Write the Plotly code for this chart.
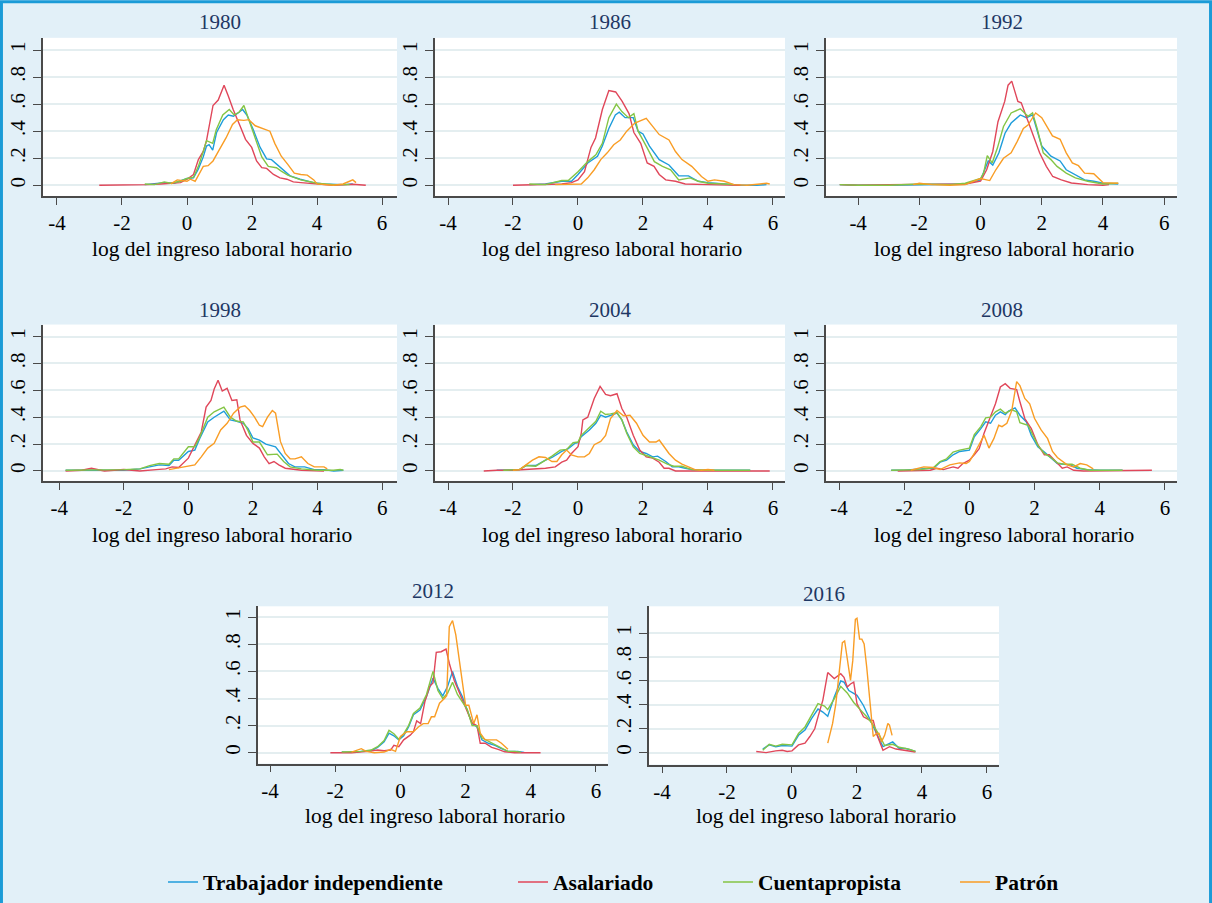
import plotly.graph_objects as go

# ---------------- data ----------------
years = ["1980", "1986", "1992", "1998", "2004", "2008", "2012", "2016"]
series_names = ["Trabajador independiente", "Asalariado", "Cuentapropista", "Patrón"]
series_colors = ["#1f9ddb", "#e0475a", "#84c545", "#f99d25"]
x_tick_vals = [-4, -2, 0, 2, 4, 6]
x_tick_text = ["-4", "-2", "0", "2", "4", "6"]
y_tick_vals = [0, 0.2, 0.4, 0.6, 0.8, 1]
y_tick_text = ["0", ".2", ".4", ".6", ".8", "1"]
x_title = "log del ingreso laboral horario"

# 1980
ti_1980_x = [-1.3,-1.0,-0.7,-0.4,-0.2,0.0,0.2,0.35,0.5,0.6,0.68,0.79,0.91,1.12,1.27,1.43,1.6,1.71,1.84,2.04,2.25,2.45,2.6,2.76,2.91,3.17,3.48,3.89,4.2,4.5,4.8,5.1]
ti_1980_y = [0.005,0.01,0.02,0.015,0.03,0.05,0.055,0.12,0.21,0.29,0.30,0.26,0.39,0.485,0.52,0.51,0.54,0.56,0.52,0.41,0.28,0.195,0.19,0.155,0.12,0.07,0.045,0.02,0.01,0.005,0.005,0.01]
as_1980_x = [-2.7,-2.3,-2.0,-1.6,-1.2,-0.8,-0.4,-0.2,0.0,0.2,0.35,0.5,0.6,0.7,0.8,0.96,1.14,1.27,1.42,1.63,1.8,1.99,2.14,2.3,2.45,2.66,2.86,3.07,3.27,3.5,4.0,4.5,4.8,5.1,5.5]
as_1980_y = [0.0,0.0,0.005,0.0,0.005,0.01,0.015,0.02,0.045,0.08,0.19,0.25,0.33,0.46,0.59,0.63,0.74,0.66,0.56,0.44,0.34,0.28,0.18,0.13,0.125,0.08,0.055,0.045,0.025,0.02,0.01,0.0,0.003,0.008,0.0]
cp_1980_x = [-1.3,-1.0,-0.7,-0.5,-0.2,0.0,0.2,0.35,0.5,0.6,0.79,0.9,1.1,1.3,1.45,1.6,1.75,1.9,2.1,2.3,2.5,2.75,2.9,3.1,3.5,4.0,4.5,5.0]
cp_1980_y = [0.01,0.005,0.025,0.015,0.03,0.05,0.06,0.14,0.25,0.33,0.31,0.41,0.52,0.56,0.52,0.54,0.59,0.485,0.36,0.21,0.14,0.13,0.105,0.075,0.04,0.015,0.005,0.005]
pa_1980_x = [-0.5,-0.3,0.0,0.1,0.25,0.4,0.5,0.65,0.8,1.0,1.2,1.4,1.55,1.75,1.9,2.1,2.3,2.55,2.7,2.9,3.1,3.3,3.5,3.7,3.9,4.0,4.5,4.8,5.0,5.1,5.2]
pa_1980_y = [0.01,0.04,0.03,0.045,0.03,0.09,0.14,0.145,0.18,0.265,0.35,0.45,0.485,0.48,0.485,0.44,0.42,0.40,0.31,0.215,0.155,0.09,0.08,0.075,0.04,0.01,0.0,0.01,0.03,0.04,0.02]

# 1986
ti_1986_x = [-1.5,-1.0,-0.5,-0.2,0.0,0.3,0.6,0.75,0.95,1.15,1.27,1.45,1.7,1.85,2.0,2.2,2.5,2.8,3.1,3.4,3.7,4.0,4.5,5.0,5.5,5.8]
ti_1986_y = [0.005,0.01,0.03,0.03,0.08,0.165,0.215,0.29,0.42,0.52,0.54,0.5,0.5,0.4,0.38,0.29,0.19,0.15,0.07,0.07,0.03,0.02,0.01,0.0,0.0,0.005]
as_1986_x = [-2.0,-1.5,-1.0,-0.5,-0.2,0.0,0.2,0.4,0.54,0.75,0.95,1.16,1.36,1.57,1.72,1.93,2.13,2.34,2.5,2.7,3.0,3.3,4.0,4.5,5.0]
as_1986_y = [0.0,0.005,0.005,0.01,0.02,0.04,0.1,0.28,0.35,0.56,0.70,0.69,0.62,0.53,0.39,0.31,0.165,0.14,0.08,0.04,0.03,0.01,0.005,0.0,0.0]
cp_1986_x = [-1.5,-1.0,-0.5,-0.3,0.0,0.3,0.55,0.75,0.95,1.18,1.35,1.55,1.72,1.85,2.1,2.35,2.6,2.85,3.1,3.45,3.7,4.0,4.5,4.8]
cp_1986_y = [0.01,0.005,0.035,0.035,0.1,0.175,0.225,0.31,0.5,0.6,0.545,0.5,0.53,0.4,0.29,0.175,0.14,0.115,0.04,0.055,0.03,0.015,0.01,0.005]
pa_1986_x = [-0.7,-0.3,0.1,0.3,0.5,0.7,0.9,1.1,1.3,1.5,1.75,2.1,2.3,2.5,2.8,3.0,3.2,3.5,3.8,4.0,4.2,4.5,4.8,5.2,5.6,5.8,5.9]
pa_1986_y = [0.005,0.01,0.01,0.055,0.115,0.19,0.24,0.3,0.335,0.4,0.46,0.495,0.435,0.375,0.335,0.25,0.19,0.14,0.065,0.03,0.04,0.03,0.005,0.0,0.01,0.015,0.01]

# 1992
ti_1992_x = [-4.6,-4.0,-3.0,-2.0,-1.0,-0.5,0.0,0.25,0.4,0.6,0.8,1.0,1.3,1.5,1.7,1.85,2.0,2.3,2.6,2.8,3.1,3.4,3.7,4.0,4.5]
ti_1992_y = [0.005,0.0,0.0,0.005,0.005,0.01,0.04,0.18,0.15,0.24,0.385,0.46,0.52,0.5,0.52,0.4,0.29,0.215,0.18,0.115,0.08,0.04,0.03,0.015,0.01]
as_1992_x = [-4.6,-4.0,-3.0,-2.0,-1.0,-0.5,0.0,0.2,0.4,0.57,0.79,0.9,1.02,1.22,1.33,1.49,1.71,1.93,2.15,2.36,2.64,2.97,3.5,4.0,4.2]
as_1992_y = [0.005,0.0,0.005,0.005,0.005,0.01,0.03,0.115,0.25,0.47,0.62,0.74,0.77,0.62,0.61,0.51,0.385,0.24,0.14,0.065,0.04,0.017,0.005,0.0,0.005]
cp_1992_x = [-4.6,-4.0,-3.0,-2.0,-1.0,-0.5,0.0,0.1,0.22,0.38,0.55,0.75,1.0,1.3,1.55,1.7,1.85,2.05,2.3,2.5,2.8,3.1,3.5,4.0,4.5]
cp_1992_y = [0.005,0.0,0.0,0.01,0.005,0.015,0.05,0.09,0.22,0.165,0.275,0.435,0.535,0.565,0.51,0.535,0.42,0.24,0.19,0.14,0.09,0.055,0.03,0.01,0.015]
pa_1992_x = [-2.2,-2.0,-1.6,-1.0,-0.5,0.0,0.3,0.5,0.75,1.0,1.2,1.4,1.55,1.8,2.0,2.2,2.35,2.6,2.8,3.0,3.2,3.4,3.7,4.0,4.2,4.4,4.5]
pa_1992_y = [0.005,0.015,0.005,0.0,0.005,0.05,0.035,0.115,0.2,0.24,0.325,0.42,0.445,0.535,0.5,0.42,0.365,0.34,0.24,0.165,0.145,0.09,0.085,0.02,0.02,0.02,0.015]

# 1998
ti_1998_x = [-3.8,-3.0,-2.0,-1.5,-1.2,-0.9,-0.6,-0.45,-0.3,0.0,0.2,0.35,0.6,0.8,1.1,1.3,1.5,1.7,1.85,2.0,2.2,2.4,2.7,2.9,3.1,3.3,3.6,3.9,4.2,4.5,4.8]
ti_1998_y = [0.005,0.005,0.005,0.015,0.03,0.045,0.04,0.08,0.08,0.145,0.155,0.24,0.365,0.4,0.445,0.38,0.37,0.355,0.315,0.245,0.23,0.2,0.18,0.12,0.055,0.03,0.03,0.01,0.01,0.0,0.005]
as_1998_x = [-3.8,-3.3,-3.0,-2.6,-2.0,-1.5,-1.0,-0.7,-0.5,-0.3,0.0,0.2,0.4,0.55,0.7,0.8,0.92,1.05,1.2,1.35,1.5,1.6,1.8,2.0,2.2,2.35,2.5,2.65,2.8,3.0,3.5,4.2]
as_1998_y = [0.0,0.005,0.02,0.0,0.01,0.0,0.01,0.015,0.03,0.025,0.095,0.19,0.29,0.475,0.525,0.61,0.675,0.595,0.615,0.525,0.53,0.38,0.265,0.205,0.17,0.105,0.055,0.07,0.045,0.02,0.005,0.0]
cp_1998_x = [-3.8,-3.0,-2.0,-1.5,-1.2,-0.9,-0.6,-0.45,-0.3,0.0,0.2,0.35,0.6,0.8,1.1,1.3,1.5,1.7,1.85,2.0,2.2,2.45,2.75,2.95,3.15,3.5,4.0,4.5,4.7,4.8]
cp_1998_y = [0.005,0.005,0.01,0.015,0.04,0.055,0.05,0.09,0.09,0.18,0.18,0.25,0.4,0.44,0.475,0.4,0.37,0.365,0.3,0.215,0.215,0.12,0.125,0.07,0.03,0.015,0.005,0.005,0.01,0.005]
pa_1998_x = [-0.6,-0.4,0.0,0.2,0.4,0.6,0.8,1.0,1.2,1.4,1.6,1.75,1.9,2.05,2.2,2.3,2.45,2.6,2.7,2.85,3.0,3.15,3.3,3.5,3.7,3.9,4.1,4.2,4.3]
pa_1998_y = [0.01,0.02,0.035,0.045,0.105,0.17,0.205,0.305,0.355,0.43,0.475,0.485,0.45,0.4,0.34,0.33,0.4,0.45,0.43,0.22,0.13,0.09,0.09,0.105,0.055,0.03,0.03,0.03,0.015]

# 2004
ti_2004_x = [-2.5,-2.0,-1.8,-1.6,-1.3,-1.0,-0.8,-0.5,-0.3,-0.1,0.0,0.1,0.35,0.55,0.7,0.85,1.0,1.2,1.35,1.5,1.7,1.9,2.1,2.3,2.45,2.7,2.9,3.1,3.3,3.5,3.8,4.5,5.3]
ti_2004_y = [0.005,0.01,0.01,0.04,0.04,0.08,0.1,0.145,0.165,0.205,0.21,0.255,0.305,0.355,0.415,0.4,0.415,0.43,0.38,0.29,0.195,0.145,0.13,0.105,0.11,0.07,0.03,0.03,0.02,0.01,0.005,0.005,0.005]
as_2004_x = [-2.9,-2.5,-2.0,-1.5,-1.0,-0.7,-0.5,-0.35,-0.2,0.0,0.1,0.15,0.3,0.5,0.68,0.85,1.0,1.2,1.35,1.5,1.7,1.9,2.1,2.3,2.5,2.65,2.8,3.0,3.5,4.5,5.9]
as_2004_y = [0.0,0.005,0.005,0.01,0.02,0.03,0.065,0.08,0.13,0.18,0.28,0.38,0.4,0.54,0.63,0.57,0.56,0.575,0.465,0.4,0.265,0.155,0.105,0.095,0.065,0.02,0.02,0.0,0.0,0.0,0.0]
cp_2004_x = [-2.3,-1.8,-1.6,-1.3,-1.0,-0.8,-0.55,-0.35,-0.15,0.0,0.1,0.35,0.55,0.7,0.85,1.0,1.2,1.35,1.5,1.7,1.9,2.1,2.3,2.5,2.75,2.95,3.2,3.5,4.0,5.3]
cp_2004_y = [0.005,0.01,0.04,0.035,0.08,0.11,0.155,0.16,0.21,0.215,0.265,0.32,0.37,0.445,0.42,0.425,0.435,0.38,0.28,0.18,0.13,0.115,0.1,0.08,0.05,0.035,0.035,0.01,0.005,0.005]
pa_2004_x = [-2.0,-1.8,-1.6,-1.4,-1.2,-1.0,-0.8,-0.65,-0.5,-0.35,-0.2,0.0,0.2,0.35,0.5,0.7,0.85,1.0,1.2,1.4,1.6,1.8,2.0,2.2,2.4,2.5,2.65,2.8,3.0,3.2,3.4,3.6,3.8,4.0,4.2]
pa_2004_y = [0.005,0.01,0.045,0.08,0.105,0.1,0.07,0.07,0.12,0.155,0.12,0.105,0.105,0.13,0.195,0.22,0.265,0.39,0.45,0.41,0.415,0.355,0.265,0.215,0.215,0.23,0.18,0.13,0.08,0.05,0.03,0.01,0.005,0.01,0.005]

# 2008
ti_2008_x = [-2.4,-2.0,-1.5,-1.1,-0.9,-0.7,-0.5,-0.3,0.0,0.15,0.35,0.5,0.65,0.8,0.95,1.1,1.2,1.4,1.55,1.75,1.9,2.1,2.3,2.5,2.7,2.9,3.1,3.3,3.6,4.0,4.7]
ti_2008_y = [0.005,0.005,0.015,0.02,0.065,0.08,0.12,0.145,0.155,0.255,0.315,0.365,0.355,0.415,0.44,0.42,0.445,0.47,0.415,0.365,0.265,0.18,0.14,0.095,0.055,0.05,0.045,0.02,0.01,0.005,0.005]
as_2008_x = [-2.2,-1.5,-1.2,-1.0,-0.8,-0.5,-0.35,-0.2,0.0,0.15,0.3,0.45,0.6,0.8,0.95,1.1,1.25,1.45,1.55,1.7,1.9,2.1,2.3,2.45,2.65,2.85,3.0,3.2,3.5,5.5,5.6]
as_2008_y = [0.0,0.005,0.005,0.02,0.01,0.03,0.02,0.055,0.08,0.12,0.165,0.28,0.38,0.5,0.625,0.65,0.615,0.605,0.515,0.39,0.315,0.195,0.12,0.12,0.07,0.02,0.03,0.005,0.0,0.0,0.005]
cp_2008_x = [-2.4,-1.5,-1.1,-0.9,-0.7,-0.5,-0.3,0.0,0.15,0.35,0.5,0.65,0.8,0.95,1.1,1.3,1.45,1.55,1.8,1.9,2.1,2.3,2.5,2.7,2.9,3.15,3.4,3.7,4.7]
cp_2008_y = [0.005,0.01,0.025,0.07,0.09,0.14,0.155,0.17,0.27,0.33,0.395,0.4,0.44,0.46,0.43,0.455,0.44,0.36,0.34,0.29,0.19,0.13,0.1,0.06,0.05,0.05,0.02,0.005,0.005]
pa_2008_x = [-1.8,-1.4,-1.1,-0.9,-0.6,-0.3,-0.1,0.0,0.15,0.3,0.45,0.6,0.75,0.9,1.0,1.15,1.3,1.45,1.55,1.7,1.85,2.0,2.2,2.4,2.55,2.7,2.85,3.0,3.2,3.4,3.6,3.8]
pa_2008_y = [0.005,0.03,0.025,0.01,0.045,0.06,0.055,0.07,0.13,0.195,0.265,0.17,0.24,0.34,0.33,0.355,0.45,0.665,0.635,0.54,0.5,0.39,0.305,0.24,0.145,0.1,0.07,0.045,0.03,0.055,0.045,0.015]

# 2012
ti_2012_x = [-1.8,-1.5,-1.2,-0.9,-0.7,-0.5,-0.35,-0.2,-0.05,0.1,0.25,0.4,0.6,0.8,1.0,1.15,1.3,1.45,1.6,1.75,1.9,2.05,2.2,2.35,2.5,2.7,2.9,3.1,3.3,3.6,3.8]
ti_2012_y = [0.005,0.003,0.01,0.015,0.04,0.08,0.145,0.125,0.095,0.125,0.19,0.28,0.315,0.415,0.55,0.475,0.42,0.49,0.6,0.49,0.415,0.315,0.215,0.19,0.095,0.07,0.055,0.03,0.01,0.01,0.003]
as_2012_x = [-2.15,-1.5,-1.0,-0.7,-0.5,-0.3,-0.2,-0.05,0.1,0.3,0.4,0.5,0.62,0.75,0.9,1.0,1.1,1.25,1.4,1.5,1.65,1.8,2.0,2.2,2.35,2.45,2.6,2.8,3.0,3.2,3.5,4.0,4.3]
as_2012_y = [0.0,0.0,0.01,0.02,0.015,0.02,0.055,0.045,0.095,0.13,0.155,0.235,0.215,0.375,0.49,0.515,0.74,0.745,0.765,0.66,0.535,0.45,0.34,0.22,0.2,0.07,0.07,0.04,0.025,0.007,0.0,0.003,0.0]
cp_2012_x = [-1.8,-1.5,-1.2,-0.9,-0.7,-0.5,-0.35,-0.2,-0.05,0.1,0.25,0.4,0.6,0.8,1.0,1.15,1.3,1.45,1.6,1.75,1.9,2.05,2.2,2.35,2.5,2.7,2.9,3.1,3.3,3.5,3.7]
cp_2012_y = [0.005,0.005,0.01,0.02,0.045,0.09,0.165,0.14,0.1,0.14,0.2,0.29,0.33,0.43,0.6,0.46,0.4,0.44,0.52,0.43,0.37,0.32,0.2,0.2,0.11,0.085,0.065,0.04,0.01,0.01,0.005]
pa_2012_x = [-1.5,-1.2,-1.05,-0.8,-0.5,-0.3,-0.15,0.0,0.2,0.4,0.55,0.7,0.85,0.95,1.05,1.2,1.35,1.42,1.5,1.6,1.7,1.8,1.9,2.0,2.1,2.25,2.35,2.45,2.6,2.8,2.95,3.1,3.2,3.3]
pa_2012_y = [0.005,0.03,0.01,0.0,0.005,0.025,0.01,0.12,0.155,0.155,0.19,0.215,0.215,0.265,0.265,0.365,0.4,0.42,0.93,0.975,0.87,0.685,0.535,0.35,0.35,0.215,0.28,0.145,0.095,0.095,0.095,0.07,0.045,0.025]

# 2016
ti_2016_x = [-0.9,-0.7,-0.5,-0.3,0.0,0.2,0.4,0.6,0.8,0.95,1.1,1.3,1.5,1.6,1.75,2.0,2.2,2.4,2.6,2.8,3.1,3.3,3.5,3.8]
ti_2016_y = [0.03,0.065,0.05,0.06,0.055,0.145,0.19,0.285,0.365,0.34,0.305,0.465,0.6,0.59,0.52,0.48,0.395,0.27,0.16,0.05,0.09,0.035,0.035,0.01]
as_2016_x = [-1.1,-0.8,-0.5,-0.3,-0.15,0.0,0.2,0.4,0.55,0.7,0.8,0.95,1.1,1.2,1.3,1.5,1.6,1.7,1.8,1.9,2.0,2.2,2.4,2.5,2.6,2.8,3.0,3.2,3.5,3.8]
as_2016_y = [0.01,0.0,0.015,0.02,0.01,0.015,0.065,0.08,0.135,0.2,0.3,0.44,0.67,0.645,0.62,0.66,0.63,0.55,0.575,0.59,0.41,0.3,0.27,0.27,0.16,0.02,0.05,0.03,0.02,0.005]
cp_2016_x = [-0.9,-0.7,-0.5,-0.3,0.0,0.2,0.4,0.6,0.8,1.0,1.1,1.3,1.5,1.7,1.9,2.1,2.3,2.5,2.7,2.85,3.1,3.3,3.6,3.8]
cp_2016_y = [0.02,0.07,0.055,0.07,0.065,0.16,0.215,0.31,0.41,0.39,0.36,0.45,0.555,0.5,0.42,0.36,0.3,0.23,0.14,0.06,0.07,0.045,0.03,0.01]
pa_2016_x = [1.1,1.25,1.35,1.45,1.55,1.62,1.7,1.8,1.87,1.95,2.0,2.08,2.15,2.22,2.3,2.4,2.5,2.6,2.68,2.75,2.85,2.95,3.0,3.08]
pa_2016_y = [0.08,0.245,0.41,0.685,0.92,0.935,0.8,0.605,0.77,1.115,1.125,0.95,0.95,0.91,0.715,0.41,0.135,0.16,0.16,0.09,0.145,0.245,0.23,0.145]

panel_series = {
    "1980": [(ti_1980_x, ti_1980_y), (as_1980_x, as_1980_y), (cp_1980_x, cp_1980_y), (pa_1980_x, pa_1980_y)],
    "1986": [(ti_1986_x, ti_1986_y), (as_1986_x, as_1986_y), (cp_1986_x, cp_1986_y), (pa_1986_x, pa_1986_y)],
    "1992": [(ti_1992_x, ti_1992_y), (as_1992_x, as_1992_y), (cp_1992_x, cp_1992_y), (pa_1992_x, pa_1992_y)],
    "1998": [(ti_1998_x, ti_1998_y), (as_1998_x, as_1998_y), (cp_1998_x, cp_1998_y), (pa_1998_x, pa_1998_y)],
    "2004": [(ti_2004_x, ti_2004_y), (as_2004_x, as_2004_y), (cp_2004_x, cp_2004_y), (pa_2004_x, pa_2004_y)],
    "2008": [(ti_2008_x, ti_2008_y), (as_2008_x, as_2008_y), (cp_2008_x, cp_2008_y), (pa_2008_x, pa_2008_y)],
    "2012": [(ti_2012_x, ti_2012_y), (as_2012_x, as_2012_y), (cp_2012_x, cp_2012_y), (pa_2012_x, pa_2012_y)],
    "2016": [(ti_2016_x, ti_2016_y), (as_2016_x, as_2016_y), (cp_2016_x, cp_2016_y), (pa_2016_x, pa_2016_y)],
}

# ---------------- layout (pixels) ----------------
W, H = 1212, 903
# plot-area boxes: left, right, top, bottom (px)
boxes = {
    "1980": (43, 397, 38, 197), "1986": (435, 785, 38, 197), "1992": (826, 1177, 38, 197),
    "1998": (43, 397, 326, 483), "2004": (435, 785, 326, 483), "2008": (826, 1177, 326, 483),
    "2012": (258, 608, 609, 767), "2016": (649, 999, 609, 768),
}
x_ranges = {
    "1980": [-4.43, 6.46], "1986": [-4.4, 6.37], "1992": [-5.05, 6.42],
    "1998": [-4.5, 6.46], "2004": [-4.4, 6.37], "2008": [-4.4, 6.37],
    "2012": [-4.37, 6.37], "2016": [-4.4, 6.37],
}
y_ranges = {
    "1980": [-0.08, 1.09], "1986": [-0.08, 1.09], "1992": [-0.08, 1.09],
    "1998": [-0.074, 1.09], "2004": [-0.074, 1.09], "2008": [-0.074, 1.09],
    "2012": [-0.08, 1.08], "2016": [-0.1, 1.225],
}
title_y = {"1980": 22, "1986": 22, "1992": 22, "1998": 311, "2004": 311, "2008": 311,
           "2012": 594, "2016": 597}
xtitle_y = {"1980": 250, "1986": 250, "1992": 250, "1998": 537, "2004": 537, "2008": 537,
            "2012": 820, "2016": 820}

SERIF = "Liberation Serif"
AXIS_COLOR = "#4a4a4a"

fig = go.Figure()
layout = dict(
    width=W, height=H,
    margin=dict(l=0, r=0, t=0, b=0),
    paper_bgcolor="#e2f0f8",
    plot_bgcolor="#ffffff",
    font=dict(family=SERIF, color="#000000"),
    annotations=[],
    shapes=[dict(type="rect", xref="paper", yref="paper", x0=0.0012, x1=0.9988,
                 y0=-0.02, y1=0.998, line=dict(color="#1b9bd7", width=3),
                 fillcolor="rgba(0,0,0,0)", layer="below")],
)

for i, yr in enumerate(years, start=1):
    l, r, t, b = boxes[yr]
    xa = "xaxis" if i == 1 else f"xaxis{i}"
    ya = "yaxis" if i == 1 else f"yaxis{i}"
    xref = "x" if i == 1 else f"x{i}"
    yref = "y" if i == 1 else f"y{i}"
    layout[xa] = dict(
        domain=[l / W, r / W], range=x_ranges[yr], anchor=yref,
        tickvals=x_tick_vals, ticktext=x_tick_text,
        showgrid=False, zeroline=False, showline=True, linecolor=AXIS_COLOR, linewidth=1.5,
        ticks="outside", ticklen=7, tickwidth=1.2, tickcolor=AXIS_COLOR,
        tickfont=dict(family=SERIF, size=21, color="#000000"),
        fixedrange=True,
    )
    layout[ya] = dict(
        domain=[1 - b / H, 1 - t / H], range=y_ranges[yr], anchor=xref,
        tickvals=y_tick_vals, ticktext=y_tick_text, tickangle=-90,
        showgrid=True, gridcolor="#e4eef0", gridwidth=1.5,
        zeroline=False, showline=True, linecolor=AXIS_COLOR, linewidth=1.5,
        ticks="outside", ticklen=8, tickwidth=1.2, tickcolor=AXIS_COLOR,
        tickfont=dict(family=SERIF, size=21, color="#000000"),
        fixedrange=True,
    )
    layout["annotations"].append(dict(
        text=yr, xref="paper", yref="paper", x=(l + r) / 2 / W, y=1 - title_y[yr] / H,
        xanchor="center", yanchor="middle", showarrow=False,
        font=dict(family=SERIF, size=21, color="#1e3764")))
    layout["annotations"].append(dict(
        text=x_title, xref="paper", yref="paper", x=(l + r) / 2 / W + 0.002, y=1 - xtitle_y[yr] / H,
        xanchor="center", yanchor="middle", showarrow=False,
        font=dict(family=SERIF, size=21.5, color="#000000")))

    for k, (xs, ys) in enumerate(panel_series[yr]):
        fig.add_trace(go.Scatter(
            x=xs, y=ys, mode="lines", name=series_names[k],
            line=dict(color=series_colors[k], width=1.4),
            xaxis=xref, yaxis=yref,
            showlegend=(i == 1),
            legend="legend" if k == 0 else f"legend{k + 1}",
            hoverinfo="skip",
        ))

legend_left_px = [163, 513, 718, 955]
for k in range(4):
    key = "legend" if k == 0 else f"legend{k + 1}"
    layout[key] = dict(
        x=legend_left_px[k] / W, y=1 - 886 / H, xanchor="left", yanchor="middle",
        xref="paper", yref="paper", orientation="h",
        bgcolor="rgba(0,0,0,0)", borderwidth=0,
        font=dict(family=SERIF, size=21.5, color="#000000", weight="bold"),
        itemwidth=30,
    )

fig.update_layout(**layout)
fig.write_html("out.html")
